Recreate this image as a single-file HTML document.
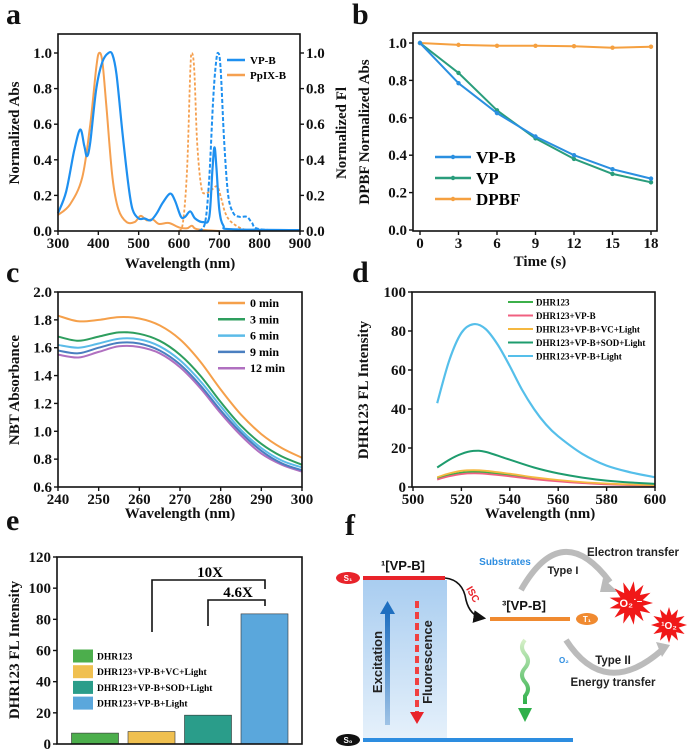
<!DOCTYPE html>
<html><head><meta charset="utf-8">
<style>
html,body{margin:0;padding:0;background:#fff;}
svg{display:block;font-family:"Liberation Serif",serif;}
.t{font-weight:bold;font-size:15px;fill:#111;}
.ttl{font-weight:bold;font-size:15px;fill:#111;}
.lt{font-weight:bold;font-family:"Liberation Serif",serif;}
.f{font-family:"Liberation Sans",sans-serif;font-weight:bold;}
</style></head>
<body>
<svg id="fig" width="700" height="754" viewBox="0 0 700 754" xmlns="http://www.w3.org/2000/svg">
<defs>
<linearGradient id="exg" x1="0" y1="0" x2="0" y2="1"><stop offset="0" stop-color="#a9cdf0"/><stop offset="1" stop-color="#e6f1fb"/></linearGradient>
<linearGradient id="exa" x1="0" y1="1" x2="0" y2="0"><stop offset="0" stop-color="#9fc3e6"/><stop offset="1" stop-color="#1f6fc0"/></linearGradient>
<linearGradient id="wav" x1="0" y1="0" x2="0" y2="1"><stop offset="0" stop-color="#d6f0c8"/><stop offset="1" stop-color="#2fb04a"/></linearGradient>
<marker id="ah" markerWidth="8" markerHeight="8" refX="6" refY="4" orient="auto"><path d="M0,0 L8,4 L0,8 z" fill="#111"/></marker>
</defs>
<g id="root"></g>
</svg>
<script>
// ---------- DATA ----------
// Panel a
const aVPBAbsX=[300,320,340,355,365,372,380,395,410,425,435,445,460,475,485,500,515,530,545,560,578,590,605,615,628,640,660,675,683,688,693,700,710,730,900];
const aVPBAbsY=[0.1,0.22,0.45,0.57,0.48,0.42,0.5,0.8,0.95,1.0,0.99,0.88,0.55,0.25,0.12,0.07,0.07,0.06,0.1,0.16,0.21,0.17,0.08,0.08,0.11,0.07,0.05,0.08,0.35,0.47,0.35,0.12,0.03,0.01,0.005];
const aPpIXAbsX=[300,330,360,380,395,402,410,420,435,450,470,490,505,520,535,550,575,600,620,632,645,700];
const aPpIXAbsY=[0.09,0.15,0.3,0.6,0.92,1.0,0.95,0.7,0.3,0.12,0.05,0.05,0.085,0.06,0.065,0.04,0.045,0.02,0.015,0.03,0.01,0];
const aPpIXFlX=[600,610,620,628,632,638,645,655,665,680,695,705,715,730,760,800];
const aPpIXFlY=[0,0.05,0.35,0.9,1.0,0.9,0.5,0.25,0.21,0.23,0.25,0.18,0.1,0.05,0.01,0];
const aVPBFlX=[650,665,675,685,692,697,703,712,722,735,750,768,780,800,900];
const aVPBFlY=[0,0.05,0.3,0.75,0.95,1.0,0.92,0.5,0.2,0.1,0.08,0.08,0.05,0.01,0.005];
const aXTicks=[300,400,500,600,700,800,900];
const aYTicks=[0,0.2,0.4,0.6,0.8,1.0];
// Panel b
const bTimes=[0,3,6,9,12,15,18];
const bVPB=[1,0.785,0.625,0.5,0.4,0.325,0.275];
const bVP=[1,0.84,0.64,0.49,0.38,0.3,0.255];
const bDPBF=[1,0.99,0.985,0.985,0.983,0.975,0.98];
const bYTicks=[0,0.2,0.4,0.6,0.8,1.0];
// Panel c
const cX=[240,245,250,255,260,265,270,275,280,285,290,295,300];
const c0=[1.83,1.79,1.80,1.82,1.81,1.76,1.66,1.50,1.30,1.12,0.98,0.88,0.81];
const c3=[1.68,1.65,1.68,1.71,1.70,1.65,1.55,1.40,1.21,1.04,0.91,0.82,0.76];
const c6=[1.62,1.60,1.63,1.665,1.66,1.61,1.51,1.36,1.18,1.01,0.88,0.79,0.74];
const c9=[1.58,1.56,1.60,1.635,1.63,1.58,1.48,1.33,1.15,0.99,0.86,0.77,0.72];
const c12=[1.55,1.53,1.57,1.61,1.605,1.56,1.46,1.31,1.13,0.97,0.84,0.76,0.71];
const cLabels=["0  min","3  min","6  min","9  min","12 min"];
const cXTicks=[240,250,260,270,280,290,300];
const cYTicks=[0.6,0.8,1.0,1.2,1.4,1.6,1.8,2.0];
// Panel d
const dX=[510,515,520,525,530,540,550,560,570,580,590,600];
const dDHR=[4.5,6.2,7.4,7.8,7.5,6.1,4.5,3.2,2.2,1.6,1.1,0.8];
const dVPB=[3.8,5.5,6.6,7,6.7,5.5,4,2.9,2,1.4,1,0.7];
const dVC=[5,7,8.3,8.6,8.3,6.8,5,3.6,2.5,1.8,1.3,1.0];
const dSOD=[10,14,17,18.5,18,14,10,7,4.8,3.3,2.3,1.6];
const dLightX=[510,515,520,525,530,535,540,545,550,555,560,570,580,590,600];
const dLight=[43,65,79,83.5,81,73,62,50,40,32,26,17,11,7.5,5];
const dLabels=["DHR123","DHR123+VP-B","DHR123+VP-B+VC+Light","DHR123+VP-B+SOD+Light","DHR123+VP-B+Light"];
const dXTicks=[500,520,540,560,580,600];
const dYTicks=[0,20,40,60,80,100];
// Panel e
const eCats=["DHR123","DHR123+VP-B+VC+Light","DHR123+VP-B+SOD+Light","DHR123+VP-B+Light"];
const eVals=[7,8,18.5,83.5];
const eYTicks=[0,20,40,60,80,100,120];

// ---------- HELPERS ----------
const NS="http://www.w3.org/2000/svg";
const root=document.getElementById('root');
function mk(tag,attrs,parent,text){const e=document.createElementNS(NS,tag);for(const k in attrs)e.setAttribute(k,attrs[k]);if(text!==undefined)e.textContent=text;(parent||root).appendChild(e);return e;}
function scale(d0,d1,r0,r1){return v=>r0+(v-d0)/(d1-d0)*(r1-r0);}
function fmt(v,dec){return v.toFixed(dec);}
function frame(g,L,T,R,B){const r=mk('rect',{x:L,y:T,width:R-L,height:B-T,fill:'none',stroke:'#111','stroke-width':1.6},g);}
function xAxis(g,ticks,sx,B,dec,show){ticks.forEach(t=>{mk('line',{x1:sx(t),x2:sx(t),y1:B,y2:B+4,stroke:'#111','stroke-width':1.4},g);if(show!==false){const e=mk('text',{x:sx(t),y:B+17,'text-anchor':'middle',class:'t'},g,fmt(t,dec));}});}
function yAxis(g,ticks,sy,L,dec,right){ticks.forEach(t=>{mk('line',{x1:L,x2:right?L+4:L-4,y1:sy(t),y2:sy(t),stroke:'#111','stroke-width':1.4},g);const e=mk('text',{x:right?L+6:L-6,y:sy(t)+5,'text-anchor':right?'start':'end',class:'t'},g,fmt(t,dec));});}
function line(g,xs,ys,sx,sy,color,w,dash){const d=xs.map((x,i)=>(i?'L':'M')+sx(x).toFixed(1)+','+sy(ys[i]).toFixed(1)).join(' ');const p=mk('path',{d:d,fill:'none',stroke:color,'stroke-width':w||2,'stroke-linejoin':'round','stroke-linecap':'round'},g);if(dash)p.setAttribute('stroke-dasharray',dash);return p;}
function smooth(g,xs,ys,sx,sy,color,w,dash){const P=xs.map((x,i)=>[sx(x),sy(ys[i])]);let d='M'+P[0][0]+','+P[0][1];for(let i=0;i<P.length-1;i++){const p0=P[i-1]||P[i],p1=P[i],p2=P[i+1],p3=P[i+2]||p2;const c1=[p1[0]+(p2[0]-p0[0])/6,p1[1]+(p2[1]-p0[1])/6],c2=[p2[0]-(p3[0]-p1[0])/6,p2[1]-(p3[1]-p1[1])/6];d+=' C'+c1[0].toFixed(1)+','+c1[1].toFixed(1)+' '+c2[0].toFixed(1)+','+c2[1].toFixed(1)+' '+p2[0].toFixed(1)+','+p2[1].toFixed(1);}const p=mk('path',{d:d,fill:'none',stroke:color,'stroke-width':w||2,'stroke-linejoin':'round'},g);if(dash)p.setAttribute('stroke-dasharray',dash);return p;}
function label(txt,x,y){const e=mk('text',{x:x,y:y,'font-size':30,'font-weight':'bold',fill:'#111'},root,txt);}
function ytitle(g,txt,x,y,name,fs){const e=mk('text',{x:x,y:y,transform:'rotate(-90 '+x+' '+y+')','text-anchor':'middle',class:'ttl'},g,txt);if(fs)e.setAttribute('font-size',fs);}
function xtitle(g,txt,x,y,name){const e=mk('text',{x:x,y:y,'text-anchor':'middle',class:'ttl'},g,txt);}

// ---------- PANEL A ----------
(function(){const g=mk('g',{});
const L=58,R=300,T=34,B=231;const sx=scale(300,900,L,R),sy=scale(0,1,B,53);
smooth(g,aPpIXAbsX,aPpIXAbsY,sx,sy,'#f5a050',2);
smooth(g,aPpIXFlX,aPpIXFlY,sx,sy,'#f5a050',1.8,'3,2');
smooth(g,aVPBAbsX,aVPBAbsY,sx,sy,'#1e90f0',2.2);
smooth(g,aVPBFlX,aVPBFlY,sx,sy,'#1e90f0',2,'4,2');
frame(g,L,T,R,B);xAxis(g,aXTicks,sx,B,0);yAxis(g,aYTicks,sy,L,1);yAxis(g,aYTicks,sy,R,1,true);
ytitle(g,'Normalized Abs',19,133,'y-axis-title-left');ytitle(g,'Normalized Fl',346,133,'y-axis-title-right',14);
xtitle(g,'Wavelength (nm)',180,268,'x-axis-title');
const lg=[['VP-B','#1e90f0',60],['PpIX-B','#f5a050',75]];lg.forEach(l=>{mk('line',{x1:227,x2:245,y1:l[2],y2:l[2],stroke:l[1],'stroke-width':2.5},g);const e=mk('text',{x:250,y:l[2]+4,'font-size':11,class:'lt'},g,l[0]);});
})();
label('a',6,24);

// ---------- PANEL B ----------
(function(){const g=mk('g',{});
const L=413,R=657,T=33,B=231;const sx=scale(0,18,420,651),sy=scale(0,1,230,43);
const S=[[bDPBF,'#f5a040','dpbf'],[bVP,'#2a9d7c','vp'],[bVPB,'#2a8fe0','vp-b']];
S.forEach(s=>{line(g,bTimes,s[0],sx,sy,s[1],2);s[0].forEach((v,i)=>{const c=mk('circle',{cx:sx(bTimes[i]),cy:sy(v),r:2.2,fill:s[1]},g);});});
frame(g,L,T,R,B);xAxis(g,bTimes,sx,B,0);yAxis(g,bYTicks,sy,L,1);
ytitle(g,'DPBF Normalized Abs',369,132,'y-axis-title',14);xtitle(g,'Time (s)',540,266,'x-axis-title');
const lg=[['VP-B','#2a8fe0',157],['VP','#2a9d7c',178],['DPBF','#f5a040',199]];lg.forEach(l=>{mk('line',{x1:435,x2:471,y1:l[2],y2:l[2],stroke:l[1],'stroke-width':2.5},g);mk('circle',{cx:453,cy:l[2],r:2.2,fill:l[1]},g);const e=mk('text',{x:476,y:l[2]+6,'font-size':17,class:'lt'},g,l[0]);});
})();
label('b',352,24);

// ---------- PANEL C ----------
(function(){const g=mk('g',{});
const L=58,R=302,T=292,B=487;const sx=scale(240,300,L,R),sy=scale(0.6,2.0,B,T);
const S=[[c12,'#b070c0'],[c9,'#4a7fc0'],[c6,'#5bbbe8'],[c3,'#2e9e5e'],[c0,'#f5a04a']];
S.forEach((s,i)=>{smooth(g,cX,s[0],sx,sy,s[1],2);});
frame(g,L,T,R,B);xAxis(g,cXTicks,sx,B,0);yAxis(g,cYTicks,sy,L,1);
ytitle(g,'NBT Absorbance',19,390,'y-axis-title');xtitle(g,'Wavelength (nm)',180,518,'x-axis-title');
const cols=['#f5a04a','#2e9e5e','#5bbbe8','#4a7fc0','#b070c0'];cLabels.forEach((t,i)=>{const y=303+i*16.3;mk('line',{x1:218,x2:245,y1:y,y2:y,stroke:cols[i],'stroke-width':2.5},g);const e=mk('text',{x:250,y:y+4,'font-size':12,class:'lt','xml:space':'preserve'},g,t);});
})();
label('c',6,282);

// ---------- PANEL D ----------
(function(){const g=mk('g',{});
const L=412,R=655,T=292,B=487;const sx=scale(500,600,413,655),sy=scale(0,100,B,T);
const cols=['#3cb04a','#f06080','#f5b840','#1e9c6e','#55bfea'];
smooth(g,dX,dDHR,sx,sy,cols[0],1.8);
smooth(g,dX,dVPB,sx,sy,cols[1],1.8);
smooth(g,dX,dVC,sx,sy,cols[2],1.8);
smooth(g,dX,dSOD,sx,sy,cols[3],2);
smooth(g,dLightX,dLight,sx,sy,cols[4],2.2);
frame(g,L,T,R,B);xAxis(g,dXTicks,sx,B,0);yAxis(g,dYTicks,sy,L,0);
ytitle(g,'DHR123 FL Intensity',368,390,'y-axis-title',14);xtitle(g,'Wavelength (nm)',540,518,'x-axis-title');
dLabels.forEach((t,i)=>{const y=302+i*13.5;mk('line',{x1:508,x2:533,y1:y,y2:y,stroke:cols[i],'stroke-width':2},g);const e=mk('text',{x:536,y:y+3.5,'font-size':9,class:'lt'},g,t);});
})();
label('d',352,282);

// ---------- PANEL E ----------
(function(){const g=mk('g',{});
const L=57,R=302,T=557,B=744;const sy=scale(0,120,B,T);const bx=i=>95+i*56.5;const bw=47;
const cols=['#4cae4c','#f0c050','#2a9d8a','#5aa7dc'];
eVals.forEach((v,i)=>{const r=mk('rect',{x:bx(i)-bw/2,y:sy(v),width:bw,height:B-sy(v),fill:cols[i],stroke:'#333','stroke-width':0.6},g);});
frame(g,L,T,R,B);yAxis(g,eYTicks,sy,L,0);
ytitle(g,'DHR123 FL Intensity',19,650,'y-axis-title');
mk('path',{d:'M152,632 V580 H265 V589',fill:'none',stroke:'#111','stroke-width':1.6},g);
mk('path',{d:'M208,626 V600 H265 V606',fill:'none',stroke:'#111','stroke-width':1.6},g);
mk('text',{x:210,y:577,'text-anchor':'middle','font-size':15,class:'lt'},g,'10X');
mk('text',{x:238,y:597,'text-anchor':'middle','font-size':15,class:'lt'},g,'4.6X');
eCats.forEach((t,i)=>{const y=656+i*15.7;mk('rect',{x:73,y:y-6.5,width:20,height:13,fill:cols[i]},g);const e=mk('text',{x:97,y:y+3.5,'font-size':9.5,class:'lt'},g,t);});
})();
label('e',6,530);

// ---------- PANEL F ----------
(function(){const g=mk('g',{});
mk('rect',{x:363,y:580,width:84,height:160,fill:'url(#exg)'},g);
mk('line',{x1:363,x2:445,y1:578,y2:578,stroke:'#e8232a','stroke-width':4},g);
mk('line',{x1:363,x2:573,y1:740,y2:740,stroke:'#2d8de0','stroke-width':4},g);
mk('line',{x1:490,x2:570,y1:619,y2:619,stroke:'#f08a30','stroke-width':4},g);
mk('ellipse',{cx:348,cy:578,rx:12,ry:6,fill:'#e8232a'},g);mk('text',{x:348,y:581,'text-anchor':'middle','font-size':8,fill:'#fff',class:'f'},g,'S₁');
mk('ellipse',{cx:348,cy:740,rx:12,ry:6,fill:'#111'},g);mk('text',{x:348,y:743,'text-anchor':'middle','font-size':8,fill:'#fff',class:'f'},g,'S₀');
mk('ellipse',{cx:587,cy:619,rx:11,ry:6,fill:'#f08a30'},g);mk('text',{x:587,y:622,'text-anchor':'middle','font-size':8,fill:'#fff',class:'f'},g,'T₁');
mk('text',{x:403,y:570,'text-anchor':'middle','font-size':13,fill:'#111',class:'f'},g,'¹[VP-B]');
mk('text',{x:524,y:610,'text-anchor':'middle','font-size':13,fill:'#111',class:'f'},g,'³[VP-B]');
mk('rect',{x:385,y:612,width:5,height:113,fill:'url(#exa)'},g);mk('path',{d:'M380,614 L387.5,601 L395,614 Z',fill:'#1f6fc0'},g);
mk('text',{x:382,y:662,transform:'rotate(-90 382 662)','text-anchor':'middle','font-size':13,fill:'#222',class:'f'},g,'Excitation');
mk('line',{x1:417,x2:417,y1:601,y2:712,stroke:'#f04040','stroke-width':4,'stroke-dasharray':'7,4'},g);mk('path',{d:'M410,712 L417,724 L424,712 Z',fill:'#e8232a'},g);
mk('text',{x:432,y:662,transform:'rotate(-90 432 662)','text-anchor':'middle','font-size':13,fill:'#222',class:'f'},g,'Fluorescence');
mk('path',{d:'M445,578 Q463,580 466,600 Q470,616 483,618',fill:'none',stroke:'#111','stroke-width':1.6,'marker-end':'url(#ah)'},g);
mk('text',{x:470,y:596,transform:'rotate(60 470 596)','text-anchor':'middle','font-size':10,fill:'#e8232a',class:'f'},g,'ISC');
mk('text',{x:505,y:565,'text-anchor':'middle','font-size':10,fill:'#2d8de0',class:'f'},g,'Substrates');
mk('path',{d:'M521,590 Q562,518 610,582',fill:'none',stroke:'#bbb','stroke-width':6},g);mk('path',{d:'M603,578 L618,592 L600,592 Z',fill:'#bbb'},g);
mk('path',{d:'M566,640 Q605,700 662,650',fill:'none',stroke:'#bbb','stroke-width':6},g);mk('path',{d:'M656,642 L670,645 L662,657 Z',fill:'#bbb'},g);
mk('text',{x:563,y:574,'text-anchor':'middle','font-size':11,fill:'#222',class:'f'},g,'Type I');
mk('text',{x:633,y:556,'text-anchor':'middle','font-size':11.5,fill:'#222',class:'f'},g,'Electron transfer');
mk('text',{x:559,y:663,'font-size':8,fill:'#2d8de0',class:'f'},g,'O₂');
mk('text',{x:613,y:664,'text-anchor':'middle','font-size':11.5,fill:'#222',class:'f'},g,'Type II');
mk('text',{x:613,y:686,'text-anchor':'middle','font-size':11.5,fill:'#222',class:'f'},g,'Energy transfer');
function star(cx,cy,r1,r2,n){let p=[];for(let i=0;i<2*n;i++){const a=Math.PI*i/n;const r=i%2?r2:r1;p.push((cx+r*Math.cos(a)).toFixed(1)+','+(cy+r*Math.sin(a)).toFixed(1));}return p.join(' ');}
mk('polygon',{points:star(631,603,22,12,13),fill:'#f01818'},g);
mk('polygon',{points:star(669,625,18,10,12),fill:'#f01818'},g);
mk('text',{x:631,y:607,'text-anchor':'middle','font-size':11,fill:'#fff',class:'f'},g,'O₂˙⁻');
mk('text',{x:669,y:629,'text-anchor':'middle','font-size':10,fill:'#fff',class:'f'},g,'¹O₂');
mk('path',{d:'M525,640 q-6,7 0,14 q6,7 0,14 q-6,7 0,14 q6,7 0,14 l0,8',fill:'none',stroke:'url(#wav)','stroke-width':4},g);
mk('path',{d:'M518,708 L525,722 L532,708 Z',fill:'#2fb04a'},g);
})();
label('f',345,535);
</script>
</body></html>
